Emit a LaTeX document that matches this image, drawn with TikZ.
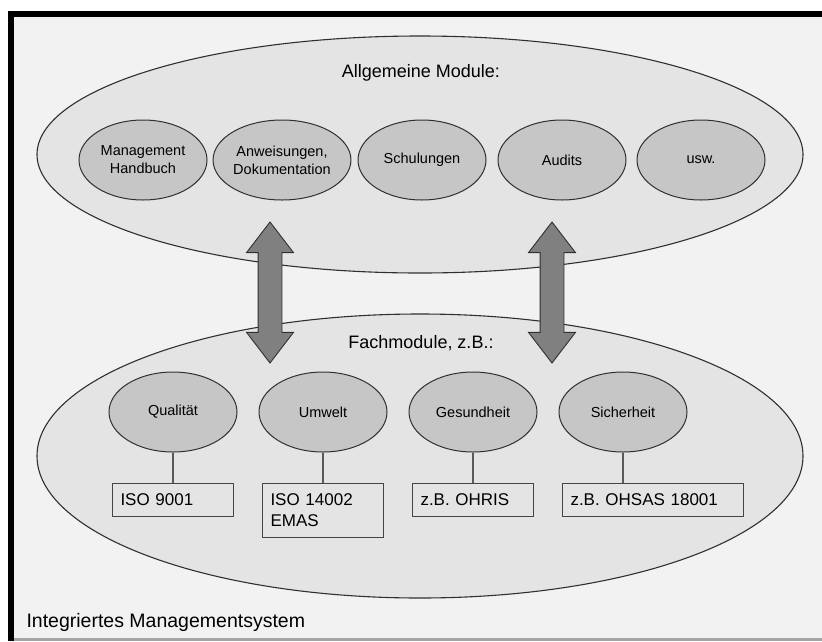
\documentclass[tikz,border=0pt]{standalone}
\usepackage{fontspec}
\setmainfont{Liberation Sans}
\usepackage{tikz}
\usetikzlibrary{shapes.geometric}
\usetikzlibrary{shapes.arrows}

\definecolor{bggray}{HTML}{F2F2F2}
\definecolor{outergray}{HTML}{E4E4E4}
\definecolor{innergray}{HTML}{C6C6C6}
\definecolor{arrowgray}{HTML}{808080}
\definecolor{linegray}{HTML}{303030}

\begin{document}
\begin{tikzpicture}[x=1pt, y=-1pt,
        gruppe/.style={draw=linegray, line width=1.1pt, fill=outergray, ellipse},
        modul/.style={draw=linegray, line width=1pt, fill=innergray, ellipse, minimum width=128, minimum height=80, inner sep=0, align=center, font=\fontsize{14.5}{18}\selectfont},
        norm/.style={draw=linegray!90, line width=1pt, rectangle, anchor=north west, minimum height=33, inner xsep=8, inner ysep=2, align=left, font=\fontsize{17}{21}\selectfont},
        titel/.style={font=\fontsize{18}{21}\selectfont, anchor=base},
        verb/.style={draw=black!65, line width=1.6pt},
        pfeil/.style={double arrow, draw=linegray, line width=0.9pt, fill=arrowgray, rotate=90, minimum height=141, inner xsep=0, inner ysep=11.5, double arrow head extend=11.5, double arrow tip angle=75}]
        \useasboundingbox (0,0) rectangle (822,641);
        % frame
        \fill[black] (8,11) rectangle (822,641);
        \fill[bggray] (14,17) rectangle (822,638);
        \fill[black!35] (14,638) rectangle (822,641);

        \node(allg) [gruppe, minimum width=766, minimum height=237] at (420,154.5) {};
        \node(fach) [gruppe, minimum width=766, minimum height=284] at (420,456) {};

        \node(tallg) [titel] at (421,77) {Allgemeine Module:};
        \node(tfach) [titel] at (421,348) {Fachmodule, z.B.:};
        \node(tims) [titel, anchor=base west, font=\fontsize{19.5}{22}\selectfont] at (23,627) {Integriertes Managementsystem};

        \node(a1) [modul] at (143,160) {Management\\Handbuch};
        \node(a2) [modul] at (282,160) {Anweisungen,\\Dokumentation};
        \node(a3) [modul] at (422,160) {Schulungen};
        \node(a4) [modul] at (562,160) {Audits};
        \node(a5) [modul] at (701,160) {usw.};

        \node(f1) [modul] at (173,412) {Qualität};
        \node(f2) [modul] at (323,412) {Umwelt};
        \node(f3) [modul] at (473,412) {Gesundheit};
        \node(f4) [modul] at (623,412) {Sicherheit};

        \node(n1) [norm, text width=105] at (112,483) {ISO 9001};
        \node(n2) [norm, text width=105, minimum height=54] at (262,483) {ISO 14002\\EMAS};
        \node(n3) [norm, text width=105] at (412,483) {z.B. OHRIS};
        \node(n4) [norm, text width=165] at (562,483) {z.B. OHSAS 18001};

        \draw[verb] (f1) -- (n1);
        \draw[verb] (f2) -- (n2);
        \draw[verb] (f3) -- (n3);
        \draw[verb] (f4.south) -- (f4.south |- n4.north);

        \node(p1) [pfeil] at (270,292.5) {};
        \node(p2) [pfeil] at (552,292.5) {};
    \end{tikzpicture}
\end{document}
